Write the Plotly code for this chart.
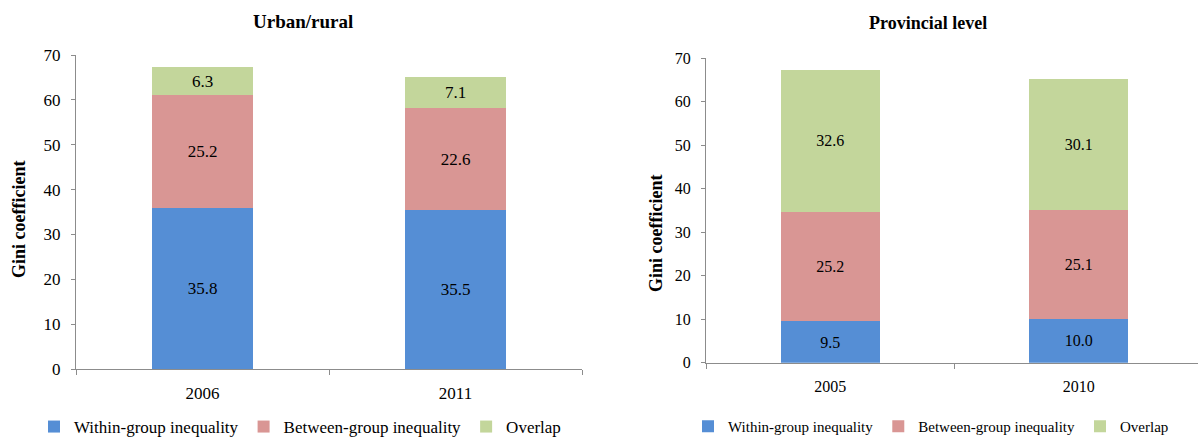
import plotly.graph_objects as go

# Gini decomposition, urban/rural split
urban_years = ["2006", "2011"]
urban_within = [35.8, 35.5]
urban_between = [25.2, 22.6]
urban_overlap = [6.3, 7.1]

# Gini decomposition, provincial split
prov_years = ["2005", "2010"]
prov_within = [9.5, 10.0]
prov_between = [25.2, 25.1]
prov_overlap = [32.6, 30.1]

series_names = ["Within-group inequality", "Between-group inequality", "Overlap"]
colors = ["#558ED5", "#D99694", "#C3D69B"]

FONT = "Liberation Serif, Times New Roman, serif"
AXIS_GREY = "#8C8C8C"
W, H = 1198, 440

fig = go.Figure()

panels = [
    (urban_years, [urban_within, urban_between, urban_overlap], "x", "y", "legend", 17),
    (prov_years, [prov_within, prov_between, prov_overlap], "x2", "y2", "legend2", 16),
]

for years, stacks, xa, ya, lg, fs in panels:
    for name, vals, col in zip(series_names, stacks, colors):
        fig.add_trace(go.Bar(
            x=years, y=vals, name=name,
            marker=dict(color=col, line=dict(width=0)),
            width=0.4,
            text=vals, texttemplate="%{y:.1f}",
            textposition="inside", insidetextanchor="middle",
            textangle=0,
            textfont=dict(family=FONT, size=fs, color="black"),
            xaxis=xa, yaxis=ya, legend=lg,
            hoverinfo="skip",
        ))

common_x = dict(
    type="category", showline=True, linecolor=AXIS_GREY, linewidth=1,
    ticks="outside", tickson="boundaries", ticklen=5, tickcolor=AXIS_GREY,
    showgrid=False, zeroline=False, automargin=False, ticklabelstandoff=9,
)
common_y = dict(
    range=[0, 70], dtick=10, showline=True, linecolor=AXIS_GREY, linewidth=1,
    ticks="outside", ticklen=4, tickcolor=AXIS_GREY,
    showgrid=False, zeroline=False, automargin=False, ticklabelstandoff=7,
)

fig.update_layout(
    template="none",
    width=W, height=H,
    margin=dict(l=0, r=0, t=0, b=0, autoexpand=False),
    paper_bgcolor="white", plot_bgcolor="white",
    barmode="stack",
    font=dict(family=FONT, color="black"),
    xaxis=dict(common_x, domain=[76 / W, 582 / W], range=[-0.5, 1.5],
               tickfont=dict(family=FONT, size=17, color="black"), anchor="y"),
    yaxis=dict(common_y, domain=[1 - 369 / H, 1 - 55 / H],
               tickfont=dict(family=FONT, size=17, color="black"), anchor="x"),
    xaxis2=dict(common_x, domain=[706 / W, 1.0], range=[-0.5, 1.48],
                tickfont=dict(family=FONT, size=16, color="black"), anchor="y2"),
    yaxis2=dict(common_y, domain=[1 - 362.7 / H, 1 - 58.3 / H],
                tickfont=dict(family=FONT, size=16, color="black"), anchor="x2"),
    legend=dict(orientation="h", x=34 / W, xanchor="left", y=-5 / H, yanchor="bottom",
                font=dict(family=FONT, size=17, color="black"),
                traceorder="normal", bgcolor="rgba(0,0,0,0)"),
    legend2=dict(orientation="h", x=688 / W, xanchor="left", y=-3 / H, yanchor="bottom",
                 font=dict(family=FONT, size=15, color="black"),
                 traceorder="normal", bgcolor="rgba(0,0,0,0)"),
    annotations=[
        dict(text="<b>Urban/rural</b>", x=303 / W, y=1 - 21 / H,
             xref="paper", yref="paper", xanchor="center", yanchor="middle",
             showarrow=False, font=dict(family=FONT, size=19, color="black")),
        dict(text="<b>Provincial level</b>", x=928 / W, y=1 - 23 / H,
             xref="paper", yref="paper", xanchor="center", yanchor="middle",
             showarrow=False, font=dict(family=FONT, size=18, color="black")),
        dict(text="<b>Gini coefficient</b>", x=19 / W, y=1 - 220 / H,
             xref="paper", yref="paper", xanchor="center", yanchor="middle",
             textangle=-90, showarrow=False,
             font=dict(family=FONT, size=18, color="black")),
        dict(text="<b>Gini coefficient</b>", x=656 / W, y=1 - 234 / H,
             xref="paper", yref="paper", xanchor="center", yanchor="middle",
             textangle=-90, showarrow=False,
             font=dict(family=FONT, size=18, color="black")),
    ],
)

fig.write_html("out.html")
